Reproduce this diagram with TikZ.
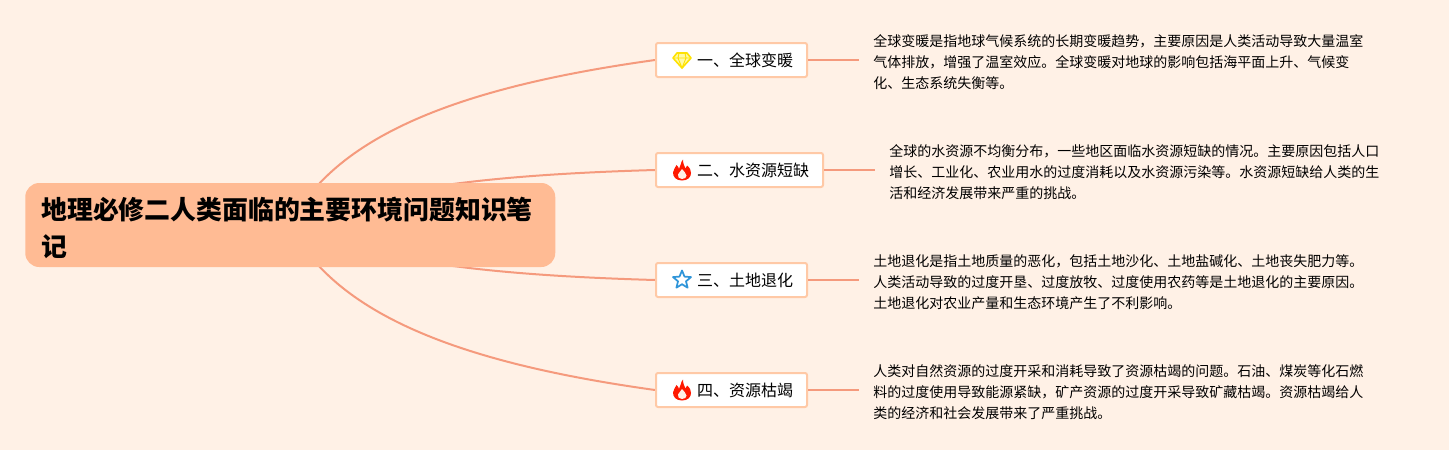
\documentclass[tikz,border=0pt]{standalone}
\usepackage{fontspec}
\setmainfont{Noto Sans CJK SC}
\usetikzlibrary{backgrounds}
\definecolor{paper}{HTML}{FFF1E6}
\definecolor{rootfill}{HTML}{FFBB94}
\definecolor{topicline}{HTML}{FFC9A6}
\definecolor{branchline}{HTML}{F59A7D}
\tikzset{
  rootbox/.style={rectangle,rounded corners=10.5pt,fill=rootfill,anchor=west,inner xsep=12pt,inner ysep=0pt,
    text width=373.5pt,minimum height=63pt,align=left,font={\fontsize{19.4}{28}\selectfont\bfseries}},
  topicbox/.style={rectangle,rounded corners=1.5pt,draw=topicline,line width=1.5pt,fill=white,anchor=west,
    minimum height=25.5pt,inner xsep=10.5pt,inner ysep=0pt,font={\fontsize{12}{14}\selectfont}},
  notetext/.style={anchor=west,align=left,inner xsep=10.5pt,inner ysep=0pt,
    font={\fontsize{10.5}{15.75}\selectfont}},
  branch/.style={draw=branchline,line width=1.5pt},
  flame/.pic={
    \fill[red!80!orange] (0,10.5) .. controls (-6,10.5) and (-9,7) .. (-9,2.5) .. controls (-9,-1) and (-6,-2.5) .. (-5.5,-5)
      .. controls (-4,-4) and (-3.5,-2.5) .. (-3,-1) .. controls (-1,-4) and (-1.5,-8) .. (1,-10.5)
      .. controls (1,-6) and (2.5,-4) .. (3.5,-1.5) .. controls (4.5,-2.5) and (5,-3.5) .. (5,-4.5)
      .. controls (8,-2) and (9,0) .. (9,3) .. controls (9,7) and (6,10.5) .. (0,10.5) -- cycle;
    \fill[paper] (0,9) .. controls (-3,9) and (-4.5,7) .. (-4,4.5) .. controls (-3.5,2.5) and (-1,1.5) .. (0,-1)
      .. controls (1.5,1.5) and (4.5,3) .. (4.5,5.5) .. controls (4.5,7.5) and (3,9) .. (0,9) -- cycle;
  },
  gem/.pic={
    \draw[yellow!85!orange,fill=yellow!35,line width=1.2pt,line join=round] (-5,-7) -- (5,-7) -- (9,-2) -- (0,8) -- (-9,-2) -- cycle;
    \draw[yellow!85!orange,line width=.7pt] (-9,-2) -- (9,-2) (-3,-7) -- (-4,-2) -- (0,8) -- (4,-2) -- (3,-7);
  },
  hollowstar/.pic={
    \draw[cyan!70!blue!85,line width=1.3pt,line join=round] (0,-9.5) -- (2.5,-3.4) -- (9,-2.9) -- (4,1.3) -- (5.6,7.7) -- (0,4.2)
      -- (-5.6,7.7) -- (-4,1.3) -- (-9,-2.9) -- (-2.5,-3.4) -- cycle;
  }
}
\begin{document}
\begin{tikzpicture}[x=0.75pt,y=-0.75pt]
\useasboundingbox (0,0) rectangle (1449,450);
\node[rootbox] (root) at (25,225) {\rule{0pt}{21pt}地理必修二人类面临的主要环境问题知识笔\\记};

\node[topicbox] (warming) at (655,60) {\hspace{20.25pt}一、全球变暖};
\node[topicbox] (water) at (655,170) {\hspace{20.25pt}二、水资源短缺};
\node[topicbox] (land) at (655,280) {\hspace{20.25pt}三、土地退化};
\node[topicbox] (resource) at (655,390) {\hspace{20.25pt}四、资源枯竭};

\pic at (682,60) {gem};
\pic at (682,170) {flame};
\pic at (682,280) {hollowstar};
\pic at (682,390) {flame};

\node[notetext] (warmingnote) at (859,62) {全球变暖是指地球气候系统的长期变暖趋势，主要原因是人类活动导致大量温室\\气体排放，增强了温室效应。全球变暖对地球的影响包括海平面上升、气候变\\化、生态系统失衡等。};
\node[notetext] (waternote) at (875,172) {全球的水资源不均衡分布，一些地区面临水资源短缺的情况。主要原因包括人口\\增长、工业化、农业用水的过度消耗以及水资源污染等。水资源短缺给人类的生\\活和经济发展带来严重的挑战。};
\node[notetext] (landnote) at (859,282) {土地退化是指土地质量的恶化，包括土地沙化、土地盐碱化、土地丧失肥力等。\\人类活动导致的过度开垦、过度放牧、过度使用农药等是土地退化的主要原因。\\土地退化对农业产量和生态环境产生了不利影响。};
\node[notetext] (resourcenote) at (859,392) {人类对自然资源的过度开采和消耗导致了资源枯竭的问题。石油、煤炭等化石燃\\料的过度使用导致能源紧缺，矿产资源的过度开采导致矿藏枯竭。资源枯竭给人\\类的经济和社会发展带来了严重挑战。};

\begin{scope}[on background layer]
\fill[paper] (0,0) rectangle (1449,450);
\draw[branch] (root.center) .. controls (340,125) and (490,83) .. (warming.west);
\draw[branch] (root.center) .. controls (370,190) and (480,175) .. (water.west);
\draw[branch] (root.center) .. controls (370,260) and (480,275) .. (land.west);
\draw[branch] (root.center) .. controls (340,325) and (490,367) .. (resource.west);
\end{scope}

\draw[branch] (warming.east) -- (warmingnote.west |- warming.east);
\draw[branch] (water.east) -- (waternote.west |- water.east);
\draw[branch] (land.east) -- (landnote.west |- land.east);
\draw[branch] (resource.east) -- (resourcenote.west |- resource.east);
\end{tikzpicture}
\end{document}
